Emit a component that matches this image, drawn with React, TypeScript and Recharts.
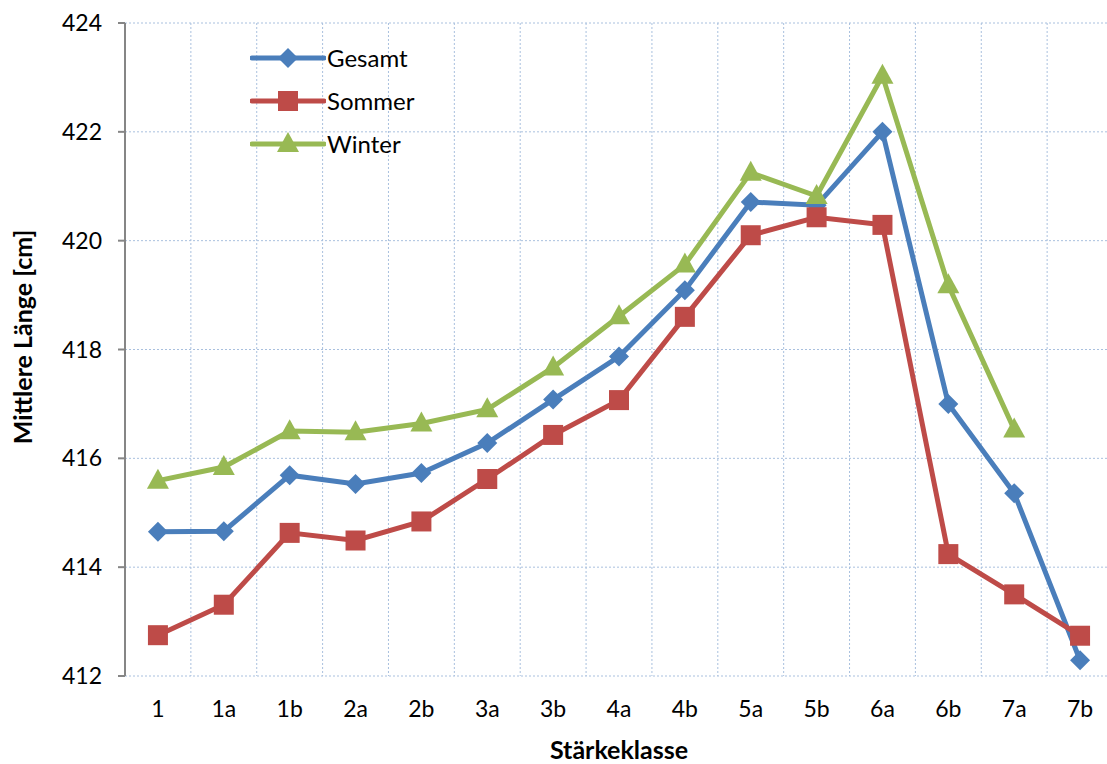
import React from 'react';
import { LineChart, Line, XAxis, YAxis, CartesianGrid, Legend, Label } from 'recharts';

const classes = ['1', '1a', '1b', '2a', '2b', '3a', '3b', '4a', '4b', '5a', '5b', '6a', '6b', '7a', '7b'];
const gesamt = [414.65, 414.66, 415.69, 415.53, 415.73, 416.28, 417.08, 417.87, 419.09, 420.71, 420.65, 422.0, 417.0, 415.36, 412.29];
const sommer = [412.75, 413.31, 414.63, 414.49, 414.84, 415.62, 416.43, 417.07, 418.6, 420.1, 420.43, 420.29, 414.24, 413.5, 412.74];
const winter = [415.59, 415.84, 416.5, 416.48, 416.64, 416.9, 417.67, 418.61, 419.56, 421.25, 420.82, 423.03, 419.18, 416.53, null];
const yTicks = [412, 414, 416, 418, 420, 422, 424];
const boundaryTicks = classes.map((_, i) => i).concat(classes.length);
const centerTicks = classes.map((_, i) => i + 0.5);

const data = classes.map((name, i) => ({
  x: i + 0.5,
  name,
  gesamt: gesamt[i],
  sommer: sommer[i],
  winter: winter[i],
}));

const BLUE = '#4A7EBB';
const RED = '#BE4B48';
const GREEN = '#98B954';
const AXIS = '#868686';
const GRID = '#A9C0DE';
const FONT = 'Lato, "Liberation Sans", sans-serif';

const Marker = ({ shape, cx, cy, color }: any) => {
  if (shape === 'diamond') {
    return <polygon points={`${cx},${cy - 10} ${cx + 10},${cy} ${cx},${cy + 10} ${cx - 10},${cy}`} fill={color} />;
  }
  if (shape === 'square') {
    return <rect x={cx - 10} y={cy - 10} width={20} height={20} fill={color} />;
  }
  return <polygon points={`${cx},${cy - 12} ${cx + 11},${cy + 8} ${cx - 11},${cy + 8}`} fill={color} />;
};

const makeDot = (shape: string, color: string) => (p: any) => {
  if (p.cx == null || p.cy == null || p.value == null) return <g key={p.index} />;
  return <Marker key={p.index} shape={shape} cx={p.cx} cy={p.cy} color={color} />;
};

const series = [
  { name: 'Gesamt', color: BLUE, shape: 'diamond' },
  { name: 'Sommer', color: RED, shape: 'square' },
  { name: 'Winter', color: GREEN, shape: 'triangle' },
];

const renderLegend = () => (
  <div style={{ fontFamily: FONT, fontSize: 24, color: '#000' }}>
    {series.map(s => (
      <div key={s.name} style={{ display: 'flex', alignItems: 'center', height: 43 }}>
        <svg width={76} height={24} style={{ marginRight: 1 }}>
          <line x1={2} y1={12} x2={74} y2={12} stroke={s.color} strokeWidth={5} strokeLinecap="round" />
          <Marker shape={s.shape} cx={38} cy={12} color={s.color} />
        </svg>
        <span>{s.name}</span>
      </div>
    ))}
  </div>
);

const yTitle = () => (
  <text
    x={22}
    y={337}
    transform="rotate(-90, 22, 337)"
    textAnchor="middle"
    dominantBaseline="central"
    style={{ fontFamily: FONT, fontSize: 25, fontWeight: 'bold', fill: '#000' }}
  >
    Mittlere Länge [cm]
  </text>
);

export default function App() {
  return (
    <div style={{ position: 'absolute', left: 0, top: 0, width: 1107, height: 764, overflow: 'hidden', background: '#fff' }}>
      <LineChart width={1113} height={764} data={data} margin={{ top: 23, right: 0, left: 0, bottom: 0 }}>
        <CartesianGrid xAxisId="g" stroke={GRID} strokeDasharray="2 2" strokeWidth={1} horizontalValues={yTicks} />
        <XAxis
          xAxisId="g"
          dataKey="x"
          type="number"
          domain={[0, 15]}
          ticks={boundaryTicks}
          tickFormatter={() => ''}
          tickSize={8}
          height={0}
          axisLine={{ stroke: AXIS, strokeWidth: 2 }}
          tickLine={{ stroke: AXIS, strokeWidth: 2 }}
        />
        <XAxis
          xAxisId="l"
          dataKey="x"
          type="number"
          domain={[0, 15]}
          ticks={centerTicks}
          interval={0}
          tickFormatter={(v: number) => classes[Math.floor(v)]}
          axisLine={false}
          tickLine={false}
          tickSize={0}
          tickMargin={25}
          height={88}
          tick={{ fill: '#000', fontSize: 23, fontFamily: FONT }}
        >
          <Label value="Stärkeklasse" position="insideBottom" offset={5} style={{ fontFamily: FONT, fontSize: 25, fontWeight: 'bold', fill: '#000' }} />
        </XAxis>
        <YAxis
          domain={[412, 424]}
          ticks={yTicks}
          width={125}
          tickSize={7}
          tickMargin={16}
          axisLine={{ stroke: AXIS, strokeWidth: 2 }}
          tickLine={{ stroke: AXIS, strokeWidth: 2 }}
          tick={{ fill: '#000', fontSize: 23, fontFamily: FONT }}
        >
          <Label content={yTitle} />
        </YAxis>
        <Legend
          content={renderLegend}
          layout="vertical"
          verticalAlign="middle"
          align="center"
          wrapperStyle={{ position: 'absolute', left: 250, top: 36, width: 200 }}
        />
        <Line xAxisId="g" dataKey="gesamt" name="Gesamt" stroke={BLUE} strokeWidth={5} dot={makeDot('diamond', BLUE)} isAnimationActive={false} />
        <Line xAxisId="g" dataKey="sommer" name="Sommer" stroke={RED} strokeWidth={5} dot={makeDot('square', RED)} isAnimationActive={false} />
        <Line xAxisId="g" dataKey="winter" name="Winter" stroke={GREEN} strokeWidth={5} dot={makeDot('triangle', GREEN)} isAnimationActive={false} />
      </LineChart>
    </div>
  );
}
